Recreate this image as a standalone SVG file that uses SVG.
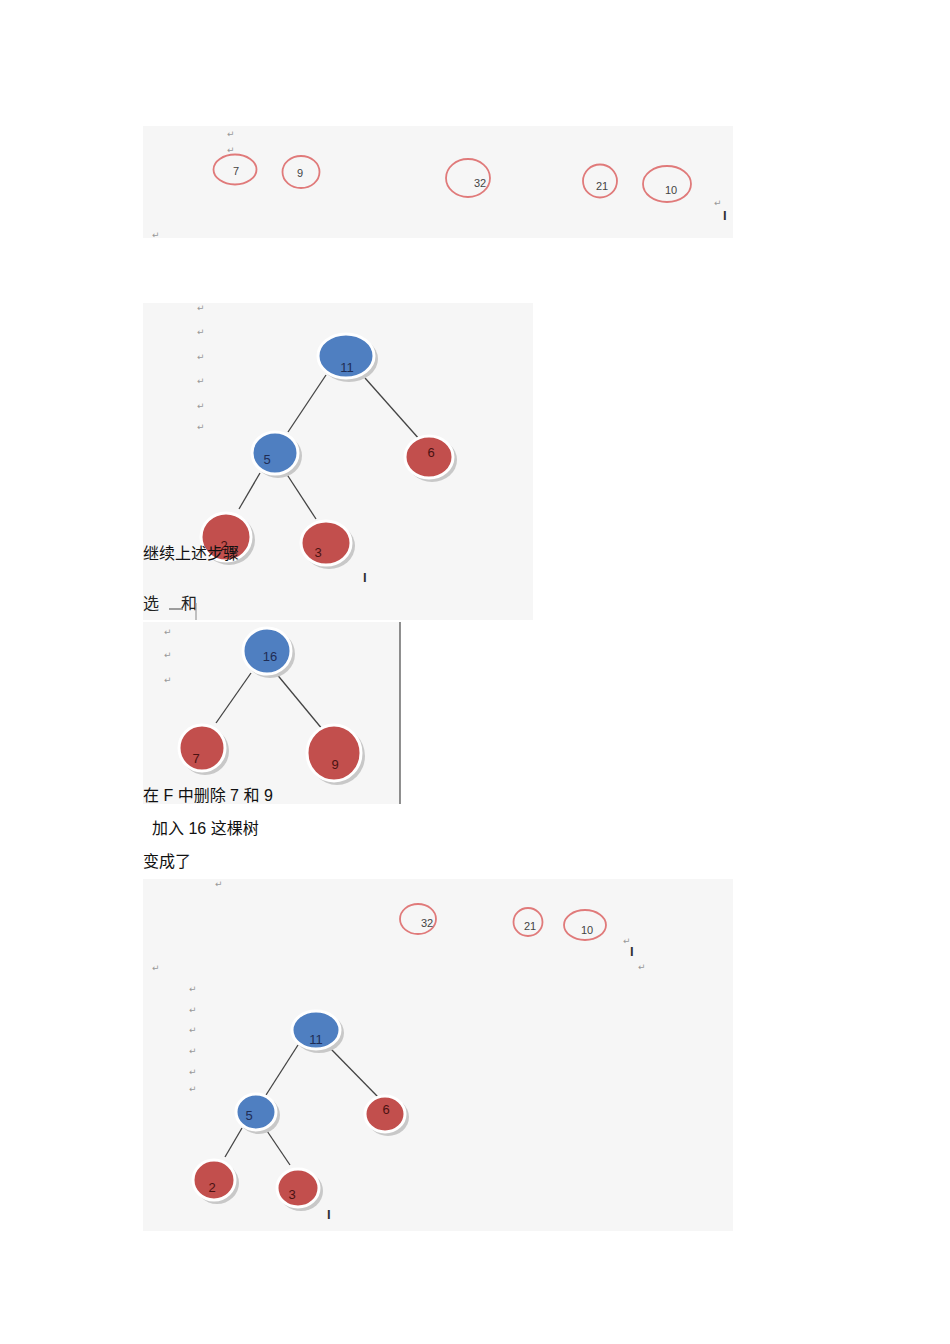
<svg xmlns="http://www.w3.org/2000/svg" width="950" height="1344" viewBox="0 0 950 1344">
<style>
.panel{fill:#f6f6f6}
.ring{fill:none;stroke:#e07a7a;stroke-width:1.8}
.rl{font-family:"Liberation Sans",Arial,sans-serif;font-size:11px;fill:#444}
.ret{font-family:"DejaVu Sans",sans-serif;font-size:9px;fill:#999}
.cur{font-family:"Liberation Sans",Arial,sans-serif;font-size:13px;fill:#333;font-weight:bold}
.sh{fill:#c8c8c8}
.bl{fill:#4f7fc1;stroke:#fff;stroke-width:3}
.rd{fill:#c24f4d;stroke:#fff;stroke-width:3}
.bt{font-family:"Liberation Sans",Arial,sans-serif;font-size:13px;fill:#1f2d55}
.rt{font-family:"Liberation Sans",Arial,sans-serif;font-size:13px;fill:#4a1212}
.edge{stroke:#444;stroke-width:1.3;fill:none}
.cn{font-family:"Liberation Sans","Noto Sans CJK SC",sans-serif;font-size:16px;fill:#111}
.cs{font-family:"Liberation Serif","Noto Sans CJK SC",serif;font-size:16px;fill:#222}
</style>
<rect width="950" height="1344" fill="#fff"/>

<!-- panels -->
<rect class="panel" x="143" y="126" width="590" height="112"/>
<rect class="panel" x="143" y="303" width="390" height="317"/>
<rect class="panel" x="143" y="622" width="257" height="182"/>
<rect class="panel" x="143" y="879" width="590" height="352"/>
<line x1="400" y1="622" x2="400" y2="804" stroke="#222" stroke-width="1"/>

<!-- top strip -->
<g id="forest1">
<text class="ret" x="227" y="137">↵</text>
<text class="ret" x="227" y="153">↵</text>
<text class="ret" x="152" y="238">↵</text>
<text class="ret" x="714" y="206">↵</text>
<text class="cur" x="723" y="220">I</text>
<g id="f1-7"><ellipse class="ring" cx="235" cy="169.5" rx="21.5" ry="15"/><text class="rl" x="236" y="175" font-size="9" text-anchor="middle">7</text></g>
<g id="f1-9"><ellipse class="ring" cx="301" cy="172" rx="18.5" ry="16"/><text class="rl" x="300" y="177" font-size="10" text-anchor="middle">9</text></g>
<g id="f1-32"><ellipse class="ring" cx="468" cy="178" rx="22" ry="19"/><text class="rl" x="480" y="187" text-anchor="middle">32</text></g>
<g id="f1-21"><ellipse class="ring" cx="600" cy="181" rx="17" ry="16.5"/><text class="rl" x="602" y="190" text-anchor="middle">21</text></g>
<g id="f1-10"><ellipse class="ring" cx="667" cy="184" rx="24" ry="18"/><text class="rl" x="671" y="194" text-anchor="middle">10</text></g>
</g>

<!-- tree 1 -->
<g id="tree1-marks">
<text class="ret" x="197" y="311">↵</text>
<text class="ret" x="197" y="335">↵</text>
<text class="ret" x="197" y="360">↵</text>
<text class="ret" x="197" y="384">↵</text>
<text class="ret" x="197" y="409">↵</text>
<text class="ret" x="197" y="430">↵</text>
<text class="cur" x="363" y="582">I</text>
</g>
<g id="tree1-edges">
<line class="edge" x1="326" y1="375" x2="288" y2="432"/>
<line class="edge" x1="365" y1="378" x2="420" y2="440"/>
<line class="edge" x1="260" y1="473" x2="239" y2="509"/>
<line class="edge" x1="286" y1="473" x2="316" y2="519"/>
</g>
<g id="t1-11"><ellipse class="sh" cx="349" cy="359" rx="29" ry="23"/><ellipse class="bl" cx="346" cy="356" rx="28" ry="22"/><text class="bt" x="347" y="372" text-anchor="middle">11</text></g>
<g id="t1-5"><ellipse class="sh" cx="278" cy="456" rx="24" ry="22"/><ellipse class="bl" cx="275" cy="453" rx="23" ry="21"/><text class="bt" x="267" y="464" text-anchor="middle" font-size="14">5</text></g>
<g id="t1-6"><ellipse class="sh" cx="432" cy="460" rx="25" ry="22"/><ellipse class="rd" cx="429" cy="457" rx="24" ry="21"/><text class="rt" x="431" y="457" text-anchor="middle">6</text></g>
<g id="t1-2"><ellipse class="sh" cx="229" cy="540" rx="26" ry="25"/><ellipse class="rd" cx="226" cy="537" rx="25" ry="24"/><text class="rt" x="224" y="550" text-anchor="middle">2</text></g>
<g id="t1-3"><ellipse class="sh" cx="329" cy="546" rx="26" ry="23"/><ellipse class="rd" cx="326" cy="543" rx="25" ry="22"/><text class="rt" x="318" y="557" text-anchor="middle">3</text></g>

<text class="cn" x="143" y="559" font-size="17">继续上述步骤</text>
<text class="cs" x="143" y="609">选</text>
<text class="cs" x="181" y="609">和</text>
<line x1="169" y1="609" x2="183" y2="609" stroke="#444" stroke-width="1"/>
<line x1="196" y1="603" x2="196" y2="620" stroke="#888" stroke-width="1"/>

<!-- tree 2 -->
<g id="tree2-marks">
<text class="ret" x="164" y="635">↵</text>
<text class="ret" x="164" y="658">↵</text>
<text class="ret" x="164" y="683">↵</text>
</g>
<g id="tree2-edges">
<line class="edge" x1="251" y1="673" x2="216" y2="723"/>
<line class="edge" x1="275" y1="672" x2="323" y2="730"/>
</g>
<g id="t2-16"><ellipse class="sh" cx="270" cy="654" rx="25" ry="24"/><ellipse class="bl" cx="267" cy="651" rx="24" ry="23"/><text class="bt" x="270" y="661" text-anchor="middle">16</text></g>
<g id="t2-7"><ellipse class="sh" cx="205" cy="751" rx="24" ry="24"/><ellipse class="rd" cx="202" cy="748" rx="23" ry="23"/><text class="rt" x="196" y="763" text-anchor="middle">7</text></g>
<g id="t2-9"><ellipse class="sh" cx="337" cy="756" rx="28" ry="29"/><ellipse class="rd" cx="334" cy="753" rx="27" ry="28"/><text class="rt" x="335" y="769" text-anchor="middle">9</text></g>

<text class="cn" x="143" y="801" font-size="15">在 F 中删除 7 和 9</text>
<text class="cn" x="152" y="834" font-size="15">加入 16 这棵树</text>
<text class="cn" x="143" y="867" font-size="15">变成了</text>

<!-- bottom panel -->
<g id="forest2">
<text class="ret" x="215" y="887">↵</text>
<text class="ret" x="152" y="971">↵</text>
<text class="ret" x="623" y="944">↵</text>
<text class="ret" x="638" y="970">↵</text>
<text class="cur" x="630" y="956">I</text>
<g id="f2-32"><ellipse class="ring" cx="418" cy="919" rx="18" ry="15"/><text class="rl" x="427" y="927" font-size="10" text-anchor="middle">32</text></g>
<g id="f2-21"><ellipse class="ring" cx="528" cy="922" rx="14.5" ry="14"/><text class="rl" x="530" y="930" font-size="10" text-anchor="middle">21</text></g>
<g id="f2-10"><ellipse class="ring" cx="585" cy="925" rx="21" ry="15"/><text class="rl" x="587" y="934" font-size="10" text-anchor="middle">10</text></g>
</g>
<g id="tree3-marks">
<text class="ret" x="189" y="992">↵</text>
<text class="ret" x="189" y="1013">↵</text>
<text class="ret" x="189" y="1033">↵</text>
<text class="ret" x="189" y="1054">↵</text>
<text class="ret" x="189" y="1075">↵</text>
<text class="ret" x="189" y="1092">↵</text>
<text class="cur" x="327" y="1219">I</text>
</g>
<g id="tree3-edges">
<line class="edge" x1="298" y1="1045" x2="266" y2="1095"/>
<line class="edge" x1="330" y1="1048" x2="378" y2="1097"/>
<line class="edge" x1="242" y1="1128" x2="225" y2="1157"/>
<line class="edge" x1="265" y1="1128" x2="290" y2="1165"/>
</g>
<g id="t3-11"><ellipse class="sh" cx="319" cy="1033" rx="25" ry="20"/><ellipse class="bl" cx="316" cy="1030" rx="24" ry="19"/><text class="bt" x="316" y="1044" text-anchor="middle" font-size="11">11</text></g>
<g id="t3-5"><ellipse class="sh" cx="259" cy="1115" rx="21" ry="19"/><ellipse class="bl" cx="256" cy="1112" rx="20" ry="18"/><text class="bt" x="249" y="1120" text-anchor="middle" font-size="12">5</text></g>
<g id="t3-6"><ellipse class="sh" cx="388" cy="1117" rx="21" ry="19"/><ellipse class="rd" cx="385" cy="1114" rx="20" ry="18"/><text class="rt" x="386" y="1114" text-anchor="middle" font-size="11">6</text></g>
<g id="t3-2"><ellipse class="sh" cx="217" cy="1183" rx="22" ry="21"/><ellipse class="rd" cx="214" cy="1180" rx="21" ry="20"/><text class="rt" x="212" y="1192" text-anchor="middle" font-size="11">2</text></g>
<g id="t3-3"><ellipse class="sh" cx="301" cy="1191" rx="22" ry="20"/><ellipse class="rd" cx="298" cy="1188" rx="21" ry="19"/><text class="rt" x="292" y="1199" text-anchor="middle" font-size="11">3</text></g>
</svg>
